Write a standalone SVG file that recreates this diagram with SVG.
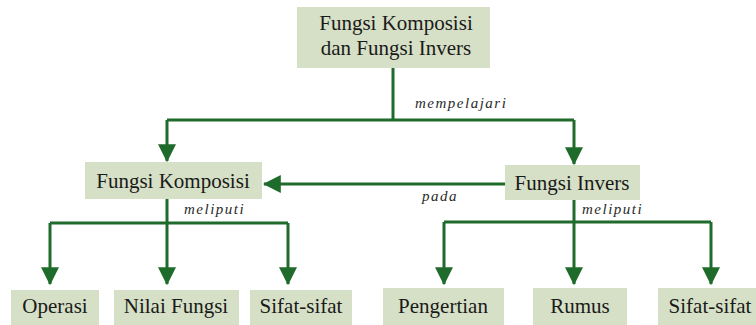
<svg xmlns="http://www.w3.org/2000/svg" width="756" height="325" viewBox="0 0 756 325">
<defs>
<style>
.box{fill:#d6e0c6}
.t{font-family:"Liberation Serif","Times New Roman",serif;font-size:21px;fill:#1a1a1a;text-anchor:middle}
.lbl{font-family:"Liberation Serif","Times New Roman",serif;font-size:15px;font-style:italic;fill:#2a2a2a;letter-spacing:1.5px}
.ln{stroke:#1f6b2c;stroke-width:3;fill:none}
</style>
<marker id="ah" markerWidth="6" markerHeight="6" refX="5.6" refY="3" orient="auto" markerUnits="strokeWidth">
<path d="M0,0 L6,3 L0,6 Z" fill="#1f6b2c"/>
</marker>
</defs>
<rect width="756" height="325" fill="#ffffff"/>
<g id="connectors">
<path class="ln" d="M393,68 V120"/>
<path class="ln" d="M167,120 H574"/>
<path class="ln" d="M167,120 V161" marker-end="url(#ah)"/>
<path class="ln" d="M574,120 V164" marker-end="url(#ah)"/>
<path class="ln" d="M505,184 H264" marker-end="url(#ah)"/>
<path class="ln" d="M167,199 V223"/>
<path class="ln" d="M50,223 H288"/>
<path class="ln" d="M50,223 V284" marker-end="url(#ah)"/>
<path class="ln" d="M167,223 V284" marker-end="url(#ah)"/>
<path class="ln" d="M288,223 V284" marker-end="url(#ah)"/>
<path class="ln" d="M574,200 V222"/>
<path class="ln" d="M444,222 H711"/>
<path class="ln" d="M444,222 V284" marker-end="url(#ah)"/>
<path class="ln" d="M574,222 V284" marker-end="url(#ah)"/>
<path class="ln" d="M711,222 V284" marker-end="url(#ah)"/>
<text class="lbl" x="415" y="108">mempelajari</text>
<text class="lbl" x="184" y="214">meliputi</text>
<text class="lbl" x="422" y="201">pada</text>
<text class="lbl" x="582" y="214">meliputi</text>
</g>
<g id="n-top">
<rect class="box" x="297" y="7" width="193" height="61"/>
<text class="t" x="396" y="30">Fungsi Komposisi</text>
<text class="t" x="396" y="55">dan Fungsi Invers</text>
</g>
<g id="n-komposisi">
<rect class="box" x="85" y="162" width="177" height="37"/>
<text class="t" x="173" y="188">Fungsi Komposisi</text>
</g>
<g id="n-invers">
<rect class="box" x="505" y="165" width="135" height="35"/>
<text class="t" x="572" y="190">Fungsi Invers</text>
</g>
<g id="n-operasi">
<rect class="box" x="11" y="290" width="88" height="40"/>
<text class="t" x="55" y="313">Operasi</text>
</g>
<g id="n-nilai">
<rect class="box" x="114" y="290" width="125" height="40"/>
<text class="t" x="176" y="313">Nilai Fungsi</text>
</g>
<g id="n-sifat1">
<rect class="box" x="250" y="290" width="102" height="40"/>
<text class="t" x="301" y="313">Sifat-sifat</text>
</g>
<g id="n-pengertian">
<rect class="box" x="383" y="288" width="121" height="40"/>
<text class="t" x="443" y="313">Pengertian</text>
</g>
<g id="n-rumus">
<rect class="box" x="533" y="288" width="94" height="40"/>
<text class="t" x="580" y="313">Rumus</text>
</g>
<g id="n-sifat2">
<rect class="box" x="658" y="288" width="110" height="40"/>
<text class="t" x="710" y="313">Sifat-sifat</text>
</g>
</svg>
